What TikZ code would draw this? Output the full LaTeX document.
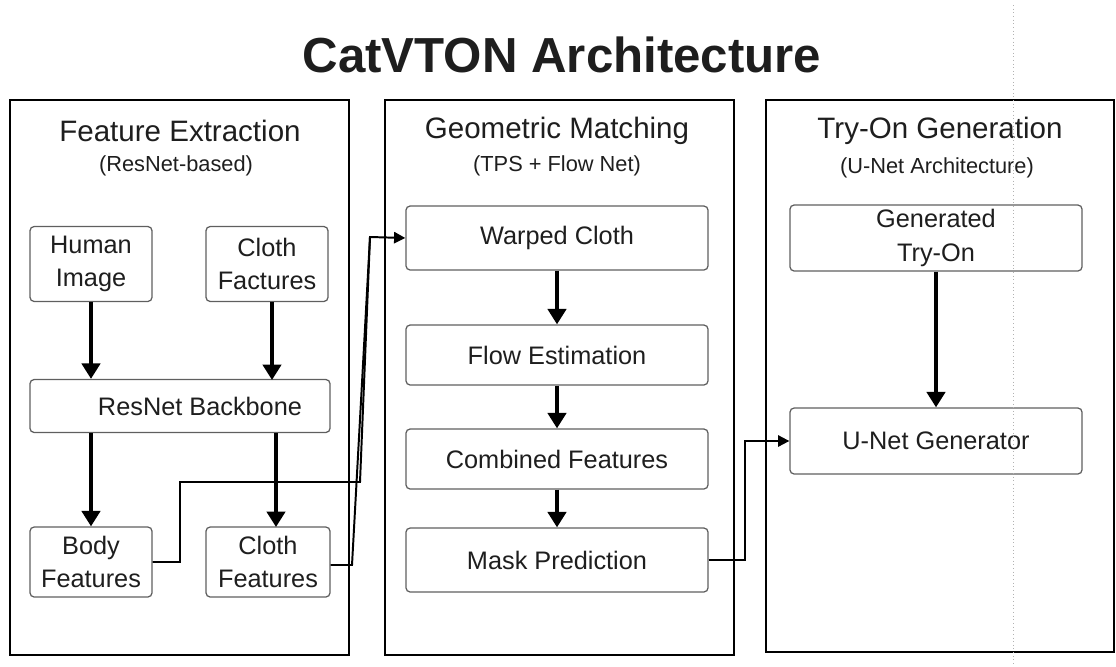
\documentclass[tikz,border=0pt]{standalone}
\usepackage{fontspec}
\setmainfont{Liberation Sans}
\usetikzlibrary{arrows.meta}
\definecolor{boxgray}{RGB}{95,95,95}
\definecolor{textdark}{RGB}{30,30,30}

\begin{document}
\begin{tikzpicture}[x=0.025cm, y=-0.025cm,
  panel/.style={draw=black, line width=1.4pt},
  block/.style={draw=boxgray, rounded corners=3pt, line width=0.9pt, align=center, text=textdark, font=\fontsize{18}{24}\selectfont, inner sep=0pt},
  flow/.style={line width=2.6pt, -{Triangle[length=11pt,width=13pt]}},
  link/.style={line width=1.4pt, -{Triangle[length=8pt,width=8pt]}},
  heading/.style={font=\fontsize{21}{25}\selectfont, text=textdark},
  subheading/.style={font=\fontsize{15.5}{19}\selectfont, text=textdark}]
  \useasboundingbox (0,0) rectangle (1116,666);

  \node[font=\fontsize{35}{40}\selectfont\bfseries, text=textdark] (title) at (562,55) {CatVTON Architecture};

  % Panels
  \draw[panel] (10,100) rectangle (349,655);
  \draw[panel] (385,100) rectangle (734,655);
  \draw[panel] (766,100) rectangle (1114,652);

  \node[heading] (fehead) at (180,131) {Feature Extraction};
  \node[subheading] (fesub) at (176,166) {(ResNet-based)};
  \node[heading] (gmhead) at (557,131) {Geometric Matching};
  \node[subheading] (gmsub) at (557,166) {(TPS + Flow Net)};
  \node[heading] (tohead) at (940,131) {Try-On Generation};
  \node[subheading] (tosub) at (937,168) {(U-Net Architecture)};

  % Feature extraction
  \node[block, minimum width=3.05cm, minimum height=1.875cm] (human) at (91,264) {Human\\Image};
  \node[block, minimum width=3.05cm, minimum height=1.875cm] (clothin) at (267,264) {Cloth\\Factures};
  \node[block, minimum width=7.5cm, minimum height=1.325cm] (backbone) at (180,406) {\hspace{1cm}ResNet Backbone};
  \node[block, minimum width=3.05cm, minimum height=1.75cm] (body) at (91,562) {Body\\Features};
  \node[block, minimum width=3.1cm, minimum height=1.75cm] (cloth) at (268,562) {Cloth\\Features};

  \draw[flow] (human.south) -- (human.south |- backbone.north);
  \draw[flow] (272,302) -- (272,380);
  \draw[flow] (body.north |- backbone.south) -- (body.north);
  \draw[flow] (276,433) -- (276,527);

  % Geometric matching
  \node[block, minimum width=7.55cm, minimum height=1.6cm] (warped) at (557,238) {Warped Cloth};
  \node[block, minimum width=7.55cm, minimum height=1.5cm] (flowest) at (557,355) {Flow Estimation};
  \node[block, minimum width=7.55cm, minimum height=1.5cm] (combined) at (557,459) {Combined Features};
  \node[block, minimum width=7.55cm, minimum height=1.6cm] (mask) at (557,560) {Mask Prediction};

  \draw[flow] (warped) -- (flowest);
  \draw[flow] (flowest) -- (combined);
  \draw[flow] (combined) -- (mask);

  % Try-on generation
  \node[block, minimum width=7.3cm, minimum height=1.65cm] (tryon) at (936,238) {Generated\\Try-On};
  \node[block, minimum width=7.3cm, minimum height=1.65cm] (unet) at (936,441) {U-Net Generator};

  \draw[flow] (tryon) -- (unet);

  % Cross-panel connectors
  \coordinate (bodyup) at (180,482);
  \coordinate (bodyrun) at (360,482);
  \coordinate (clothjog) at (352,565);
  \coordinate (warpin) at (370,237);
  \coordinate (maskjog) at (745,441);

  \draw[link] (body.east) -| (bodyup) -- (bodyrun) -- (warpin) -- (warped.west);
  \draw[line width=1.4pt] (cloth.east |- clothjog) -- (clothjog) -- (warpin);
  \draw[link] (mask.east) -| (maskjog) -- (unet.west);

  % guide line
  \draw[gray!60, dotted, line width=0.6pt] (1013,5) -- (1013,666);
\end{tikzpicture}
\end{document}
